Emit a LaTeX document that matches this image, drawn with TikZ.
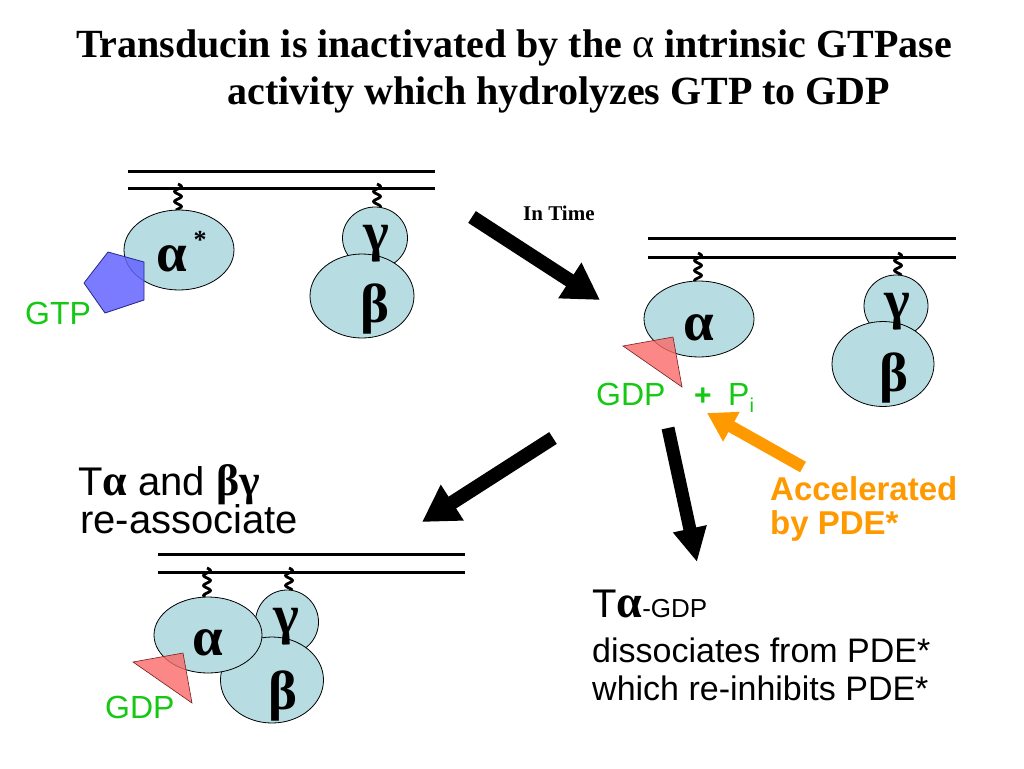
\documentclass[tikz,border=0pt]{standalone}
\usepackage{fontspec}
\usepackage{graphicx}
\setmainfont{Liberation Serif}
\setsansfont{Liberation Sans}
\newfontfamily\grk{Liberation Serif}
\usetikzlibrary{arrows.meta,shapes.geometric}
\definecolor{ballblue}{RGB}{183,221,227}
\definecolor{pentblue}{RGB}{100,100,255}
\definecolor{pentedge}{RGB}{40,40,140}
\definecolor{trired}{RGB}{250,105,105}
\definecolor{triedge}{RGB}{120,30,30}
\definecolor{txtgreen}{RGB}{20,200,20}
\definecolor{accorange}{RGB}{255,153,0}
\newcommand{\myfs}[1]{\fontsize{#1}{#1}\selectfont}
\newcommand{\squiggle}[3]{\draw[squig, shift={(#1,#2)}] plot[domain=0:#3, samples=60, smooth] ({3.4*sin(\x*36)},\x);}
\begin{document}
\begin{tikzpicture}[x=1pt,y=-1pt,
  ball/.style={ellipse, draw=black, line width=0.8pt, fill=ballblue, inner sep=0pt},
  memb/.style={line width=3pt},
  squig/.style={line width=2.8pt},
  bigarrow/.style={line width=14pt, -{Triangle[length=36pt,width=40pt]}},
  orarrow/.style={line width=12pt, color=accorange, -{Triangle[length=28pt,width=32pt]}},
  greek/.style={inner sep=0pt, font=\grk\bfseries\myfs{55}},
  sans/.style={inner sep=0pt, anchor=base west, font=\sffamily\myfs{34}},
  gtxt/.style={inner sep=0pt, anchor=base west, font=\sffamily\myfs{32}, text=txtgreen},
  pent/.style={fill=pentblue, fill opacity=0.85, draw=pentedge, line width=0.8pt},
  tri/.style={fill=trired, fill opacity=0.8, draw=triedge, line width=0.6pt}]
\useasboundingbox (0,0) rectangle (1024,768);
\fill[white] (0,0) rectangle (1024,768);

% title
\node[inner sep=0pt, anchor=base, font=\bfseries\myfs{40}] (title1) at (514,58)
  {Transducin is inactivated by the {\mdseries\grk\myfs{42}α} intrinsic GTPase};
\node[inner sep=0pt, anchor=base, font=\bfseries\myfs{40}] (title2) at (559,104)
  {activity which hydrolyzes GTP to GDP};

% ---------- complex 1 (top left) ----------
\coordinate (m1a) at (128,171); \coordinate (m1b) at (435,171);
\coordinate (m1c) at (128,188); \coordinate (m1d) at (435,188);
\draw[memb] (m1a) -- (m1b);
\draw[memb] (m1c) -- (m1d);
\squiggle{178}{184}{26}
\squiggle{377}{184}{23}
\node[ball, minimum width=110pt, minimum height=80pt] (A1) at (179,250) {};
\node[ball, minimum width=65pt, minimum height=62pt] (G1) at (375,238) {};
\node[ball, minimum width=104pt, minimum height=84pt] (B1) at (362,296) {};
\filldraw[pent] (108,252) -- (144,262) -- (144,300) -- (105,313) -- (84,283) -- cycle;
\node[greek] (a1t) at (172,259) {α};
\node[inner sep=0pt, font=\grk\bfseries\myfs{26}] (a1s) at (200,240) {*};
\node[greek] (g1t) at (376,244) {γ};
\node[greek] (b1t) at (375,309) {β};
\node[gtxt] (gtp) at (25,324) {GTP};

% ---------- complex 2 (right) ----------
\coordinate (m2a) at (648,238); \coordinate (m2b) at (956,238);
\coordinate (m2c) at (648,257); \coordinate (m2d) at (956,257);
\draw[memb] (m2a) -- (m2b);
\draw[memb] (m2c) -- (m2d);
\squiggle{698}{253}{28}
\squiggle{898}{253}{22}
\node[ball, minimum width=110pt, minimum height=76pt] (A2) at (699,319) {};
\node[ball, minimum width=64pt, minimum height=62pt] (G2) at (896,306) {};
\node[ball, minimum width=102pt, minimum height=85pt] (B2) at (883,364) {};
\filldraw[tri] (623,346) -- (673,337) -- (682,387) -- cycle;
\node[greek] (a2t) at (699,328) {α};
\node[greek] (g2t) at (897,312) {γ};
\node[greek] (b2t) at (894,378) {β};
\node[gtxt] (gdp2) at (596,405) {GDP};
\node[gtxt, font=\sffamily\bfseries\myfs{30}] (plus) at (694,405) {+};
\node[gtxt] (pi) at (728,405) {P\raisebox{-7pt}{\myfs{20}i}};

% ---------- complex 3 (bottom left) ----------
\coordinate (m3a) at (158,554); \coordinate (m3b) at (465,554);
\coordinate (m3c) at (158,572); \coordinate (m3d) at (465,572);
\draw[memb] (m3a) -- (m3b);
\draw[memb] (m3c) -- (m3d);
\squiggle{207}{568}{29}
\squiggle{289}{568}{22}
\node[ball, minimum width=63pt, minimum height=64pt] (G3) at (287,622) {};
\node[ball, minimum width=103pt, minimum height=86pt] (B3) at (272,680) {};
\node[ball, minimum width=108pt, minimum height=76pt] (A3) at (208,635) {};
\filldraw[tri] (133,662) -- (183,653) -- (192,703) -- cycle;
\node[greek] (a3t) at (208,643) {α};
\node[greek] (g3t) at (286,627) {γ};
\node[greek] (b3t) at (283,696) {β};
\node[gtxt] (gdp3) at (105,718) {GDP};

% ---------- arrows ----------
\coordinate (t1) at (472,217); \coordinate (h1) at (600,300);
\coordinate (t2) at (553,438); \coordinate (h2) at (422,522);
\coordinate (t3) at (668,428); \coordinate (h3) at (697,562);
\coordinate (t4) at (803,467); \coordinate (h4) at (707,413);
\draw[bigarrow] (t1) -- (h1);
\draw[bigarrow] (t2) -- (h2);
\draw[bigarrow, -{Triangle[length=34pt,width=32pt]}, line width=13pt] (t3) -- (h3);
\draw[orarrow] (t4) -- (h4);
\node[inner sep=0pt, anchor=base west, font=\bfseries\myfs{21}] (intime) at (523,220) {In Time};

% ---------- texts ----------
\node[sans, font=\sffamily\myfs{40}] (l1) at (78,495) {T{\grk\bfseries\myfs{44}α} and {\grk\bfseries\myfs{44}βγ}};
\node[sans, font=\sffamily\myfs{40}] (l2) at (80,533) {re-associate};
\node[sans, font=\sffamily\myfs{40}] (r1) at (592,617) {T{\grk\bfseries\myfs{46}α}{\myfs{26}-GDP}};
\node[sans] (r2) at (592,662) {dissociates from PDE*};
\node[sans] (r3) at (592,700) {which re-inhibits PDE*};
\node[sans, font=\sffamily\bfseries\myfs{33}, text=accorange] (acc1) at (770,500) {Accelerated};
\node[sans, font=\sffamily\bfseries\myfs{33}, text=accorange] (acc2) at (770,534) {by PDE*};
\end{tikzpicture}
\end{document}
